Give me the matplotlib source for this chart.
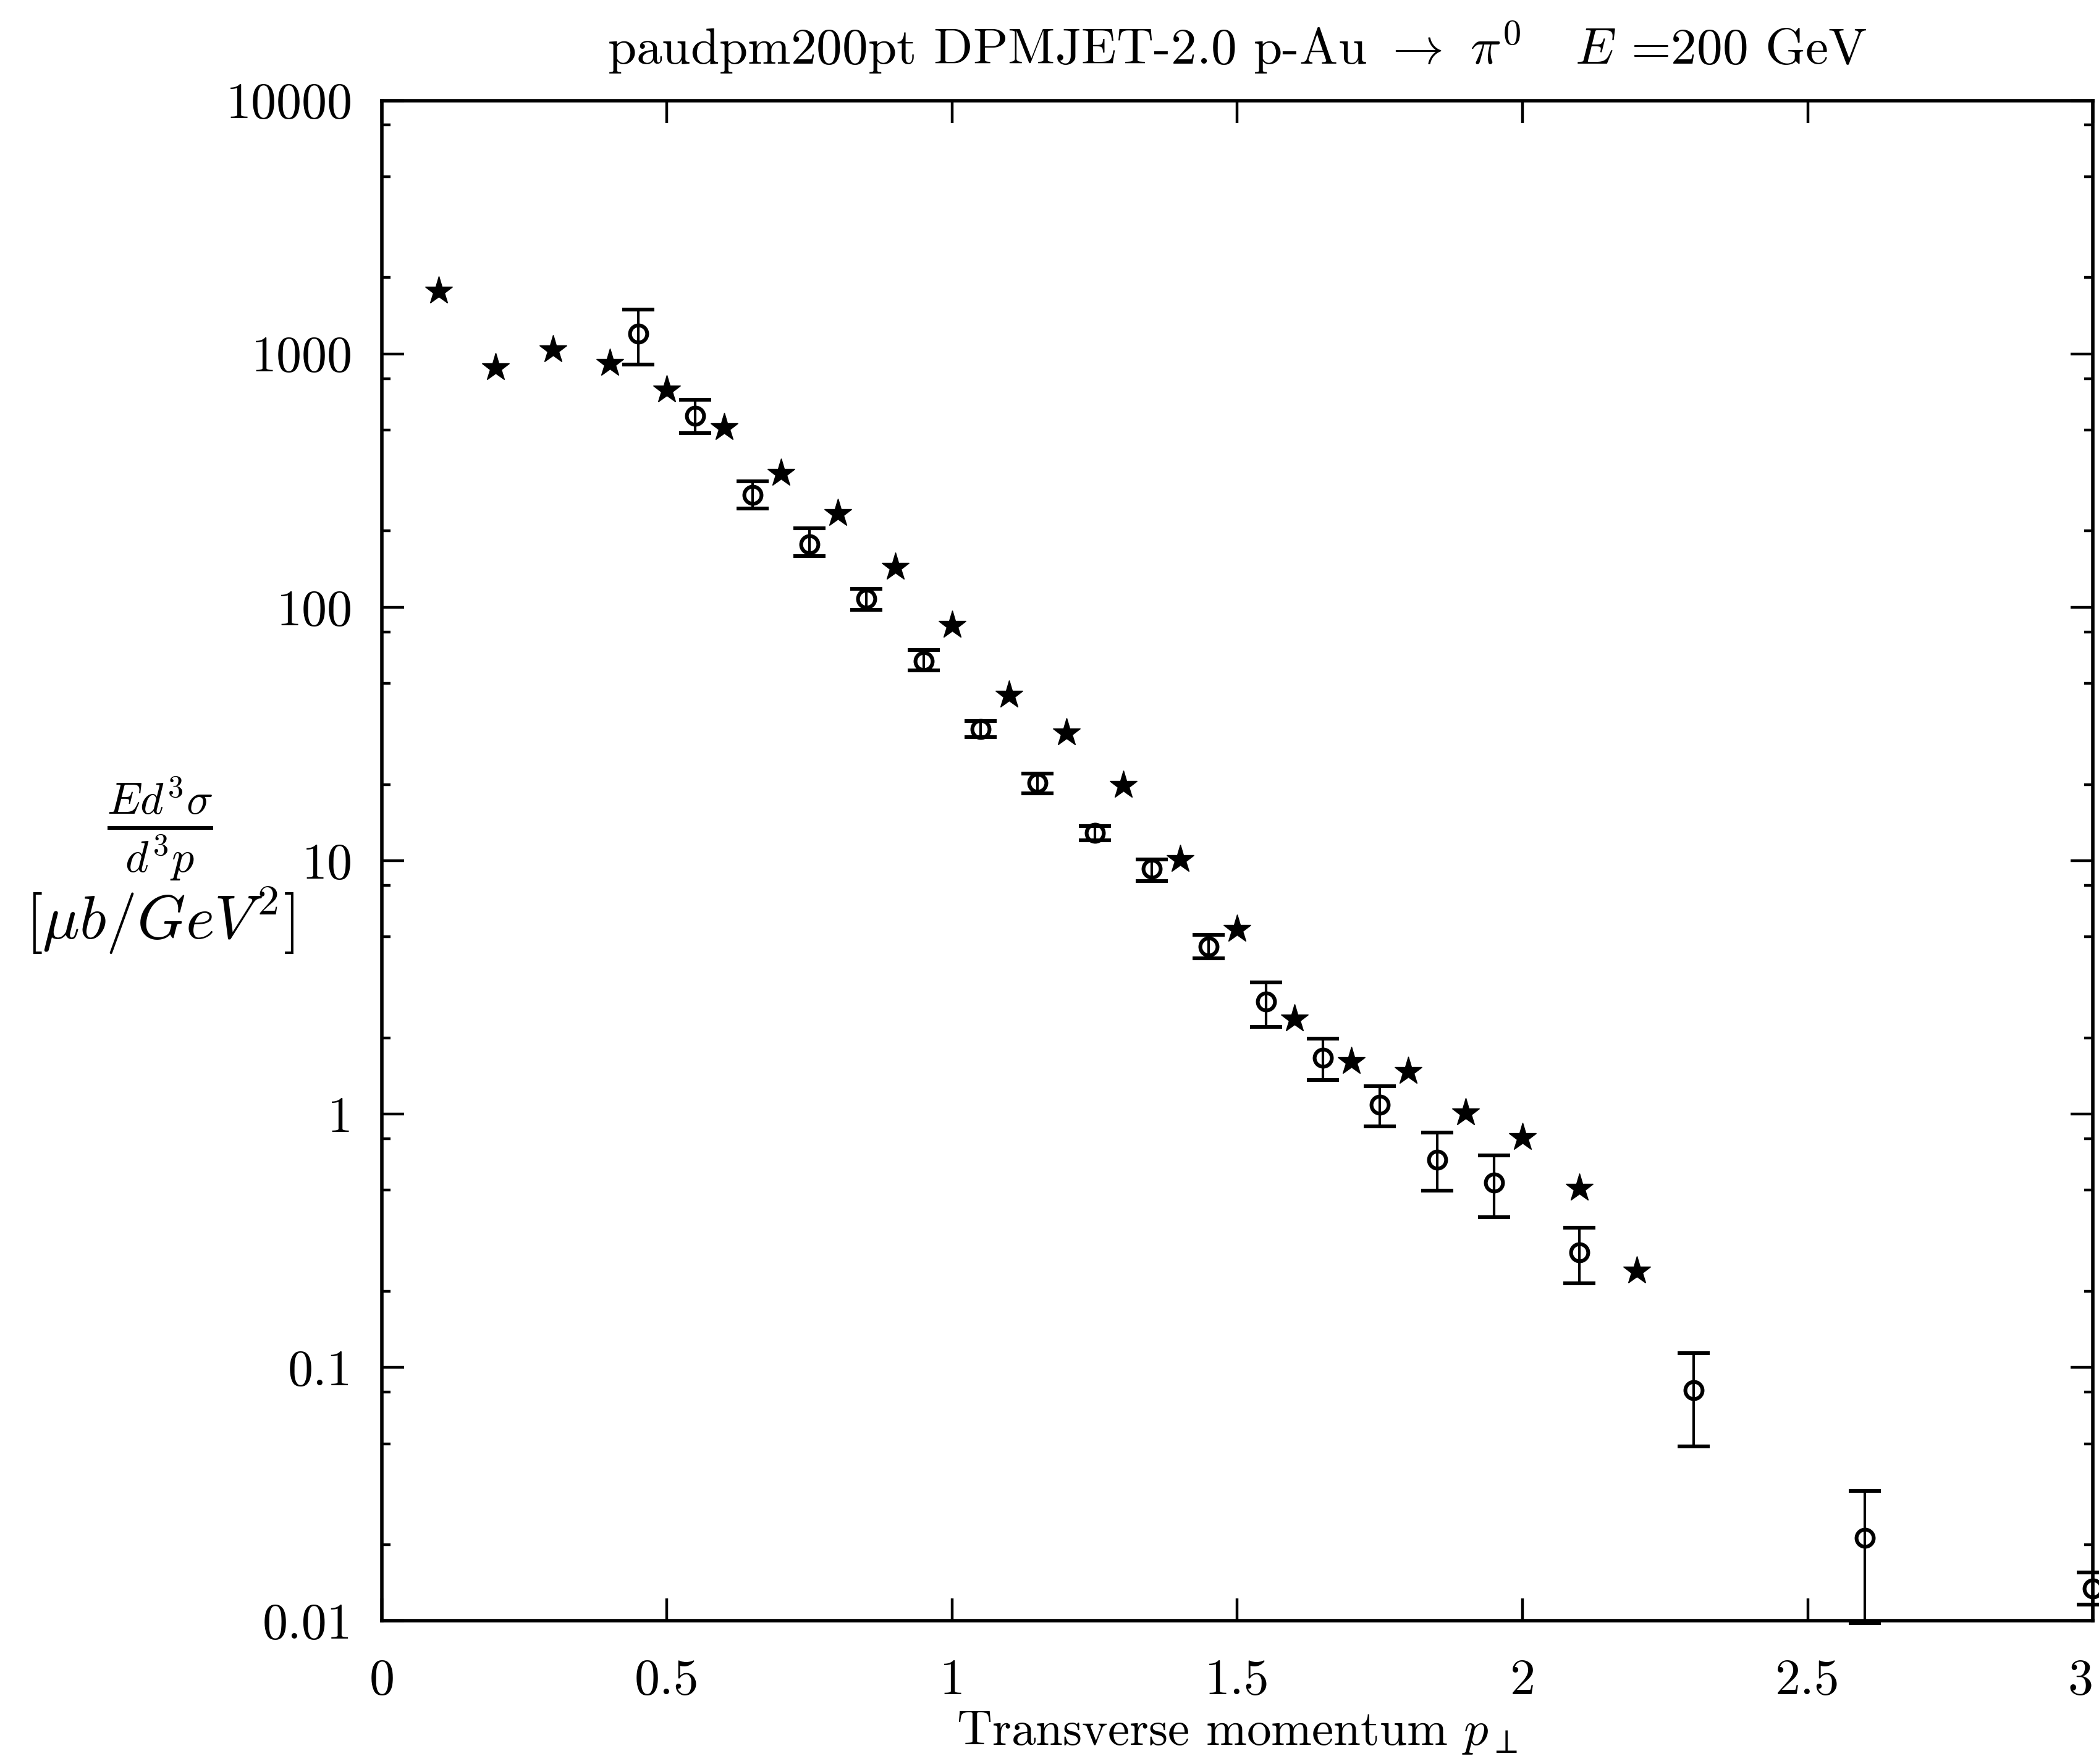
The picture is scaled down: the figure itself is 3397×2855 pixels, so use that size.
import matplotlib
matplotlib.use("Agg")
import matplotlib.pyplot as plt
import numpy as np
from matplotlib.ticker import LogLocator, FixedLocator, NullFormatter

plt.rcParams['font.family'] = ['cmr10', 'DejaVu Serif']
plt.rcParams['mathtext.fontset'] = 'cm'
plt.rcParams['axes.formatter.use_mathtext'] = True

# DPMJET-2.0 model points (stars)
star_x = [0.1, 0.2, 0.3, 0.4, 0.5, 0.6, 0.7, 0.8, 0.9, 1.0, 1.1, 1.2, 1.3, 1.4,
          1.5, 1.6, 1.7, 1.8, 1.9, 2.0, 2.1, 2.2]
star_y = [1770, 885, 1037, 918, 720, 512, 338, 234, 144, 85, 45, 32, 19.8, 10.1,
          5.37, 2.38, 1.61, 1.47, 1.01, 0.81, 0.51, 0.24]

# experimental data with error bars
data_x = [0.45, 0.55, 0.65, 0.75, 0.85, 0.95, 1.05, 1.15, 1.25, 1.35, 1.45, 1.55,
          1.65, 1.75, 1.85, 1.95, 2.1, 2.3, 2.6, 3.0]
data_y = [1200, 571, 278, 177, 108, 61.4, 33.0, 20.3, 12.9, 9.3, 4.58, 2.78,
          1.67, 1.09, 0.66, 0.537, 0.285, 0.0813, 0.0213, 0.0134]
data_hi = [1496, 661, 314, 205, 118.6, 67.7, 35.5, 22.1, 13.7, 10.1, 5.11, 3.30,
           1.98, 1.29, 0.843, 0.685, 0.355, 0.114, 0.0326, 0.0155]
data_lo = [908, 487, 246, 159, 97.5, 56.4, 30.7, 18.4, 12.0, 8.3, 4.11, 2.21,
           1.36, 0.895, 0.499, 0.392, 0.215, 0.0488, 0.0098, 0.0116]

xticks = [0, 0.5, 1, 1.5, 2, 2.5, 3]
xticklabels = ['0', '0.5', '1', '1.5', '2', '2.5', '3']
yticks = [0.01, 0.1, 1, 10, 100, 1000, 10000]
yticklabels = ['0.01', '0.1', '1', '10', '100', '1000', '10000']

fig = plt.figure(figsize=(16.99, 14.275), dpi=200)
ax = fig.add_axes([0.1818, 0.0812, 0.9968 - 0.1818, 0.943 - 0.0812])

ax.set_yscale('log')
ax.set_xlim(0, 3)
ax.set_ylim(0.01, 10000)

ax.plot(star_x, star_y, linestyle='none', marker='*', markersize=17,
        color='black', markeredgewidth=0.5)

dy = np.array(data_y)
yerr = [dy - np.array(data_lo), np.array(data_hi) - dy]
ax.errorbar(data_x, data_y, yerr=yerr, fmt='o', markersize=10,
            markerfacecolor='none', markeredgecolor='black', markeredgewidth=2.2,
            ecolor='black', elinewidth=1.5, capsize=9.5, capthick=2.2,
            color='black', clip_on=False)

ax.xaxis.set_major_locator(FixedLocator(xticks))
ax.set_xticklabels(xticklabels)
ax.yaxis.set_major_locator(FixedLocator(yticks))
ax.set_yticklabels(yticklabels)
ax.yaxis.set_minor_locator(LogLocator(base=10, subs=[2, 5, 8], numticks=20))
ax.yaxis.set_minor_formatter(NullFormatter())

ax.tick_params(which='both', direction='in', top=True, right=True, width=1.6)
ax.tick_params(which='major', length=13, labelsize=29.5)
ax.tick_params(which='minor', length=5)
ax.tick_params(axis='x', which='major', pad=22)
ax.tick_params(axis='y', which='major', pad=17)
ax.get_xticklabels()[-1].set_horizontalalignment('right')
for s in ax.spines.values():
    s.set_linewidth(2.0)

ax.set_title(r'paudpm200pt DPMJET-2.0 p-Au $\rightarrow$ $\pi^0$   $E$ =200 GeV',
             fontsize=30, pad=21)
ax.set_xlabel(r'Transverse momentum $p_\perp$', fontsize=28.5, labelpad=3.5)

fig.text(0.0762, 0.530, r'$\frac{Ed^3\sigma}{d^3p}$', fontsize=37,
         ha='center', va='center')
fig.text(0.0760, 0.478, r'$[\mu b/GeV^2]$', fontsize=36,
         ha='center', va='center')

fig.savefig('out.png', dpi=200)
